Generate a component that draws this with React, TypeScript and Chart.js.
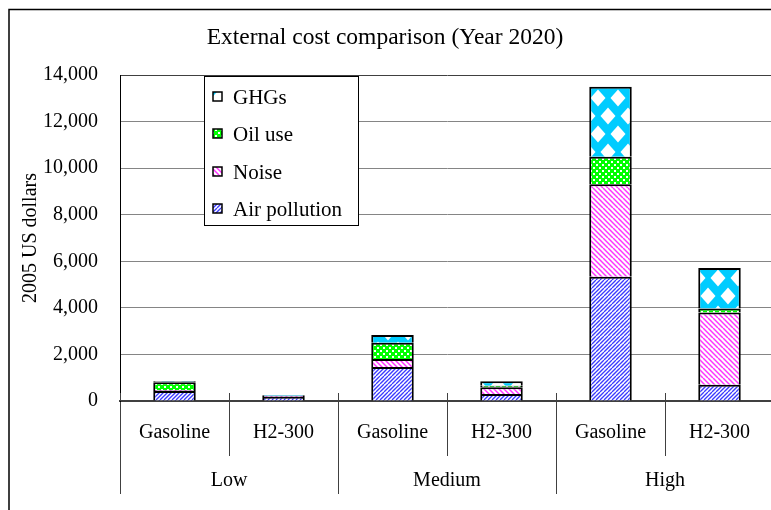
import React, { useEffect, useRef } from "react";
import { Chart, registerables } from "chart.js";

Chart.register(...registerables);

// ---- data ----
const categories = ["Gasoline", "H2-300", "Gasoline", "H2-300", "Gasoline", "H2-300"];
const groups = ["Low", "Medium", "High"];
const seriesNames = ["Air pollution", "Noise", "Oil use", "GHGs"];
const airPollution = [430, 170, 1460, 300, 5340, 700];
const noise = [40, 40, 340, 290, 3970, 3100];
const oilUse = [330, 10, 700, 60, 1180, 170];
const ghgs = [50, 30, 330, 200, 3010, 1745];
const yMin = 0;
const yMax = 14000;
const yStep = 2000;
const chartTitle = "External cost comparison (Year 2020)";
const yTitle = "2005 US dollars";

const FONT = '"Liberation Serif", "Times New Roman", serif';
const W = 770;
const H = 505;

function makePattern(kind: string): CanvasPattern | string {
  const c = document.createElement("canvas");
  const g = c.getContext("2d");
  if (!g) return "#888";
  if (kind === "air") {
    const s = 8;
    c.width = s; c.height = s;
    g.fillStyle = "#ffffff"; g.fillRect(0, 0, s, s);
    g.strokeStyle = "#3a3aff"; g.lineWidth = 1.3;
    for (let o = -s; o <= s; o += 4) {
      g.beginPath(); g.moveTo(o, s); g.lineTo(o + s, 0); g.stroke();
    }
  } else if (kind === "noise") {
    const s = 10;
    c.width = s; c.height = s;
    g.fillStyle = "#ffffff"; g.fillRect(0, 0, s, s);
    g.strokeStyle = "#ff33ff"; g.lineWidth = 1.5;
    for (let o = -s; o <= s; o += 5) {
      g.beginPath(); g.moveTo(o, 0); g.lineTo(o + s, s); g.stroke();
    }
  } else if (kind === "oil") {
    const s = 6;
    c.width = s; c.height = s;
    g.fillStyle = "#00ff00"; g.fillRect(0, 0, s, s);
    g.fillStyle = "#ffffff";
    g.fillRect(0, 0, 2, 2);
    g.fillRect(3, 3, 2, 2);
  } else {
    const tw = 20;
    const th = 36;
    c.width = tw; c.height = th;
    g.fillStyle = "#00ccff"; g.fillRect(0, 0, tw, th);
    g.fillStyle = "#ffffff";
    const dx = 7.5;
    const dy = 8.5;
    const centers = [[0, 0], [tw, 0], [0, th], [tw, th], [tw / 2, th / 2]];
    for (const [cx, cy] of centers) {
      g.beginPath();
      g.moveTo(cx, cy - dy); g.lineTo(cx + dx, cy); g.lineTo(cx, cy + dy); g.lineTo(cx - dx, cy);
      g.closePath(); g.fill();
    }
  }
  return g.createPattern(c, "repeat") || "#888";
}

const decorPlugin = {
  id: "decor",
  afterDraw(chart: any) {
    const ctx: CanvasRenderingContext2D = chart.ctx;
    const area = chart.chartArea;
    ctx.save();

    // outer frame (left & top visible)
    ctx.strokeStyle = "#000";
    ctx.lineWidth = 1.5;
    ctx.beginPath();
    ctx.moveTo(1, H + 10);
    ctx.lineTo(1, 1.5);
    ctx.lineTo(W + 10, 1.5);
    ctx.stroke();

    // title
    ctx.fillStyle = "#000";
    ctx.font = `23.5px ${FONT}`;
    ctx.textAlign = "center";
    ctx.textBaseline = "alphabetic";
    ctx.fillText(chartTitle, 377, 36);

    // short category tick marks above the axis
    const xs = chart.scales.x;
    const n = chart.data.labels.length;
    const step = (xs.right - xs.left) / n;
    ctx.strokeStyle = "#404040";
    ctx.lineWidth = 1;
    for (let i = 0; i <= n; i++) {
      const x = Math.round(xs.left + i * step) + 0.5;
      ctx.beginPath();
      ctx.moveTo(x, area.bottom - 8);
      ctx.lineTo(x, area.bottom);
      ctx.stroke();
    }

    // legend box
    const lx = area.left + 84;
    const ly = area.top + 1;
    const lw = 154;
    const lh = 149;
    ctx.fillStyle = "#fff";
    ctx.fillRect(lx, ly, lw, lh);
    ctx.strokeStyle = "#000";
    ctx.lineWidth = 1;
    ctx.strokeRect(lx + 0.5, ly + 0.5, lw, lh);
    const ds = chart.data.datasets.slice().reverse();
    ctx.font = `21px ${FONT}`;
    ctx.textAlign = "left";
    ctx.textBaseline = "middle";
    ds.forEach((d: any, i: number) => {
      const cy = Math.round(ly + 21 + i * 37.3);
      const sx = Math.round(lx + 9);
      const sy = cy - 5;
      ctx.save();
      ctx.translate(sx - 4, sy - 12);
      ctx.fillStyle = d.backgroundColor;
      ctx.fillRect(4, 12, 9, 9);
      ctx.restore();
      ctx.strokeStyle = "#000";
      ctx.lineWidth = 1.5;
      ctx.strokeRect(sx, sy, 9, 9);
      ctx.fillStyle = "#000";
      ctx.fillText(d.label, lx + 29, cy + 1);
    });
    ctx.restore();
  },
};

export default function App() {
  const ref = useRef<HTMLCanvasElement | null>(null);

  useEffect(() => {
    if (!ref.current) return;
    const kinds = ["air", "noise", "oil", "ghg"];
    const values = [airPollution, noise, oilUse, ghgs];
    const datasets = seriesNames.map((name, i) => ({
      label: name,
      data: values[i],
      backgroundColor: makePattern(kinds[i]) as any,
      borderColor: "#000",
      borderWidth: 2,
      borderSkipped: "start" as const,
      categoryPercentage: 0.39,
      barPercentage: 1,
    }));

    const chart = new Chart(ref.current, {
      type: "bar",
      data: { labels: categories, datasets },
      plugins: [decorPlugin],
      options: {
        responsive: false,
        animation: false,
        devicePixelRatio: 1,
        layout: { padding: { top: 67, left: 1, right: 4, bottom: 22 } },
        plugins: {
          legend: { display: false },
          title: { display: false },
          tooltip: { enabled: false },
        },
        scales: {
          x: {
            stacked: true,
            weight: 0,
            grid: {
              offset: true,
              drawOnChartArea: false,
              tickLength: 55,
              color: "#404040",
              lineWidth: 1,
            },
            border: { display: true, color: "#404040", width: 2 },
            ticks: {
              padding: -35,
              autoSkip: false,
              maxRotation: 0,
              color: "#000",
              font: { family: FONT, size: 20 },
            },
            afterFit: (s: any) => { s.height = 43; },
          },
          x2: {
            type: "category",
            labels: groups,
            position: "bottom",
            offset: true,
            weight: 1,
            grid: {
              offset: true,
              drawOnChartArea: false,
              tickLength: 50,
              color: "#404040",
              lineWidth: 1,
            },
            border: { display: false },
            ticks: {
              padding: -25,
              autoSkip: false,
              maxRotation: 0,
              color: "#000",
              font: { family: FONT, size: 20 },
            },
            afterFit: (s: any) => { s.height = 47; },
          },
          y: {
            stacked: true,
            min: yMin,
            max: yMax,
            grid: {
              drawTicks: false,
              color: (c: any) => (c.tick && c.tick.value === yMax ? "#404040" : "#858585"),
              lineWidth: 1,
            },
            border: { display: true, color: "#000", width: 1 },
            ticks: {
              stepSize: yStep,
              padding: 22,
              color: "#000",
              font: { family: FONT, size: 20 },
            },
            title: {
              display: true,
              text: yTitle,
              color: "#000",
              padding: { top: 10, bottom: 0 },
              font: { family: FONT, size: 20 },
            },
            afterFit: (s: any) => { s.width = 111; },
          },
        },
      } as any,
    });
    return () => chart.destroy();
  }, []);

  return (
    <div style={{ position: "fixed", left: 8, top: 8, width: W, height: H }}>
      <canvas ref={ref} width={W} height={H} style={{ width: W, height: H, display: "block" }} />
    </div>
  );
}
